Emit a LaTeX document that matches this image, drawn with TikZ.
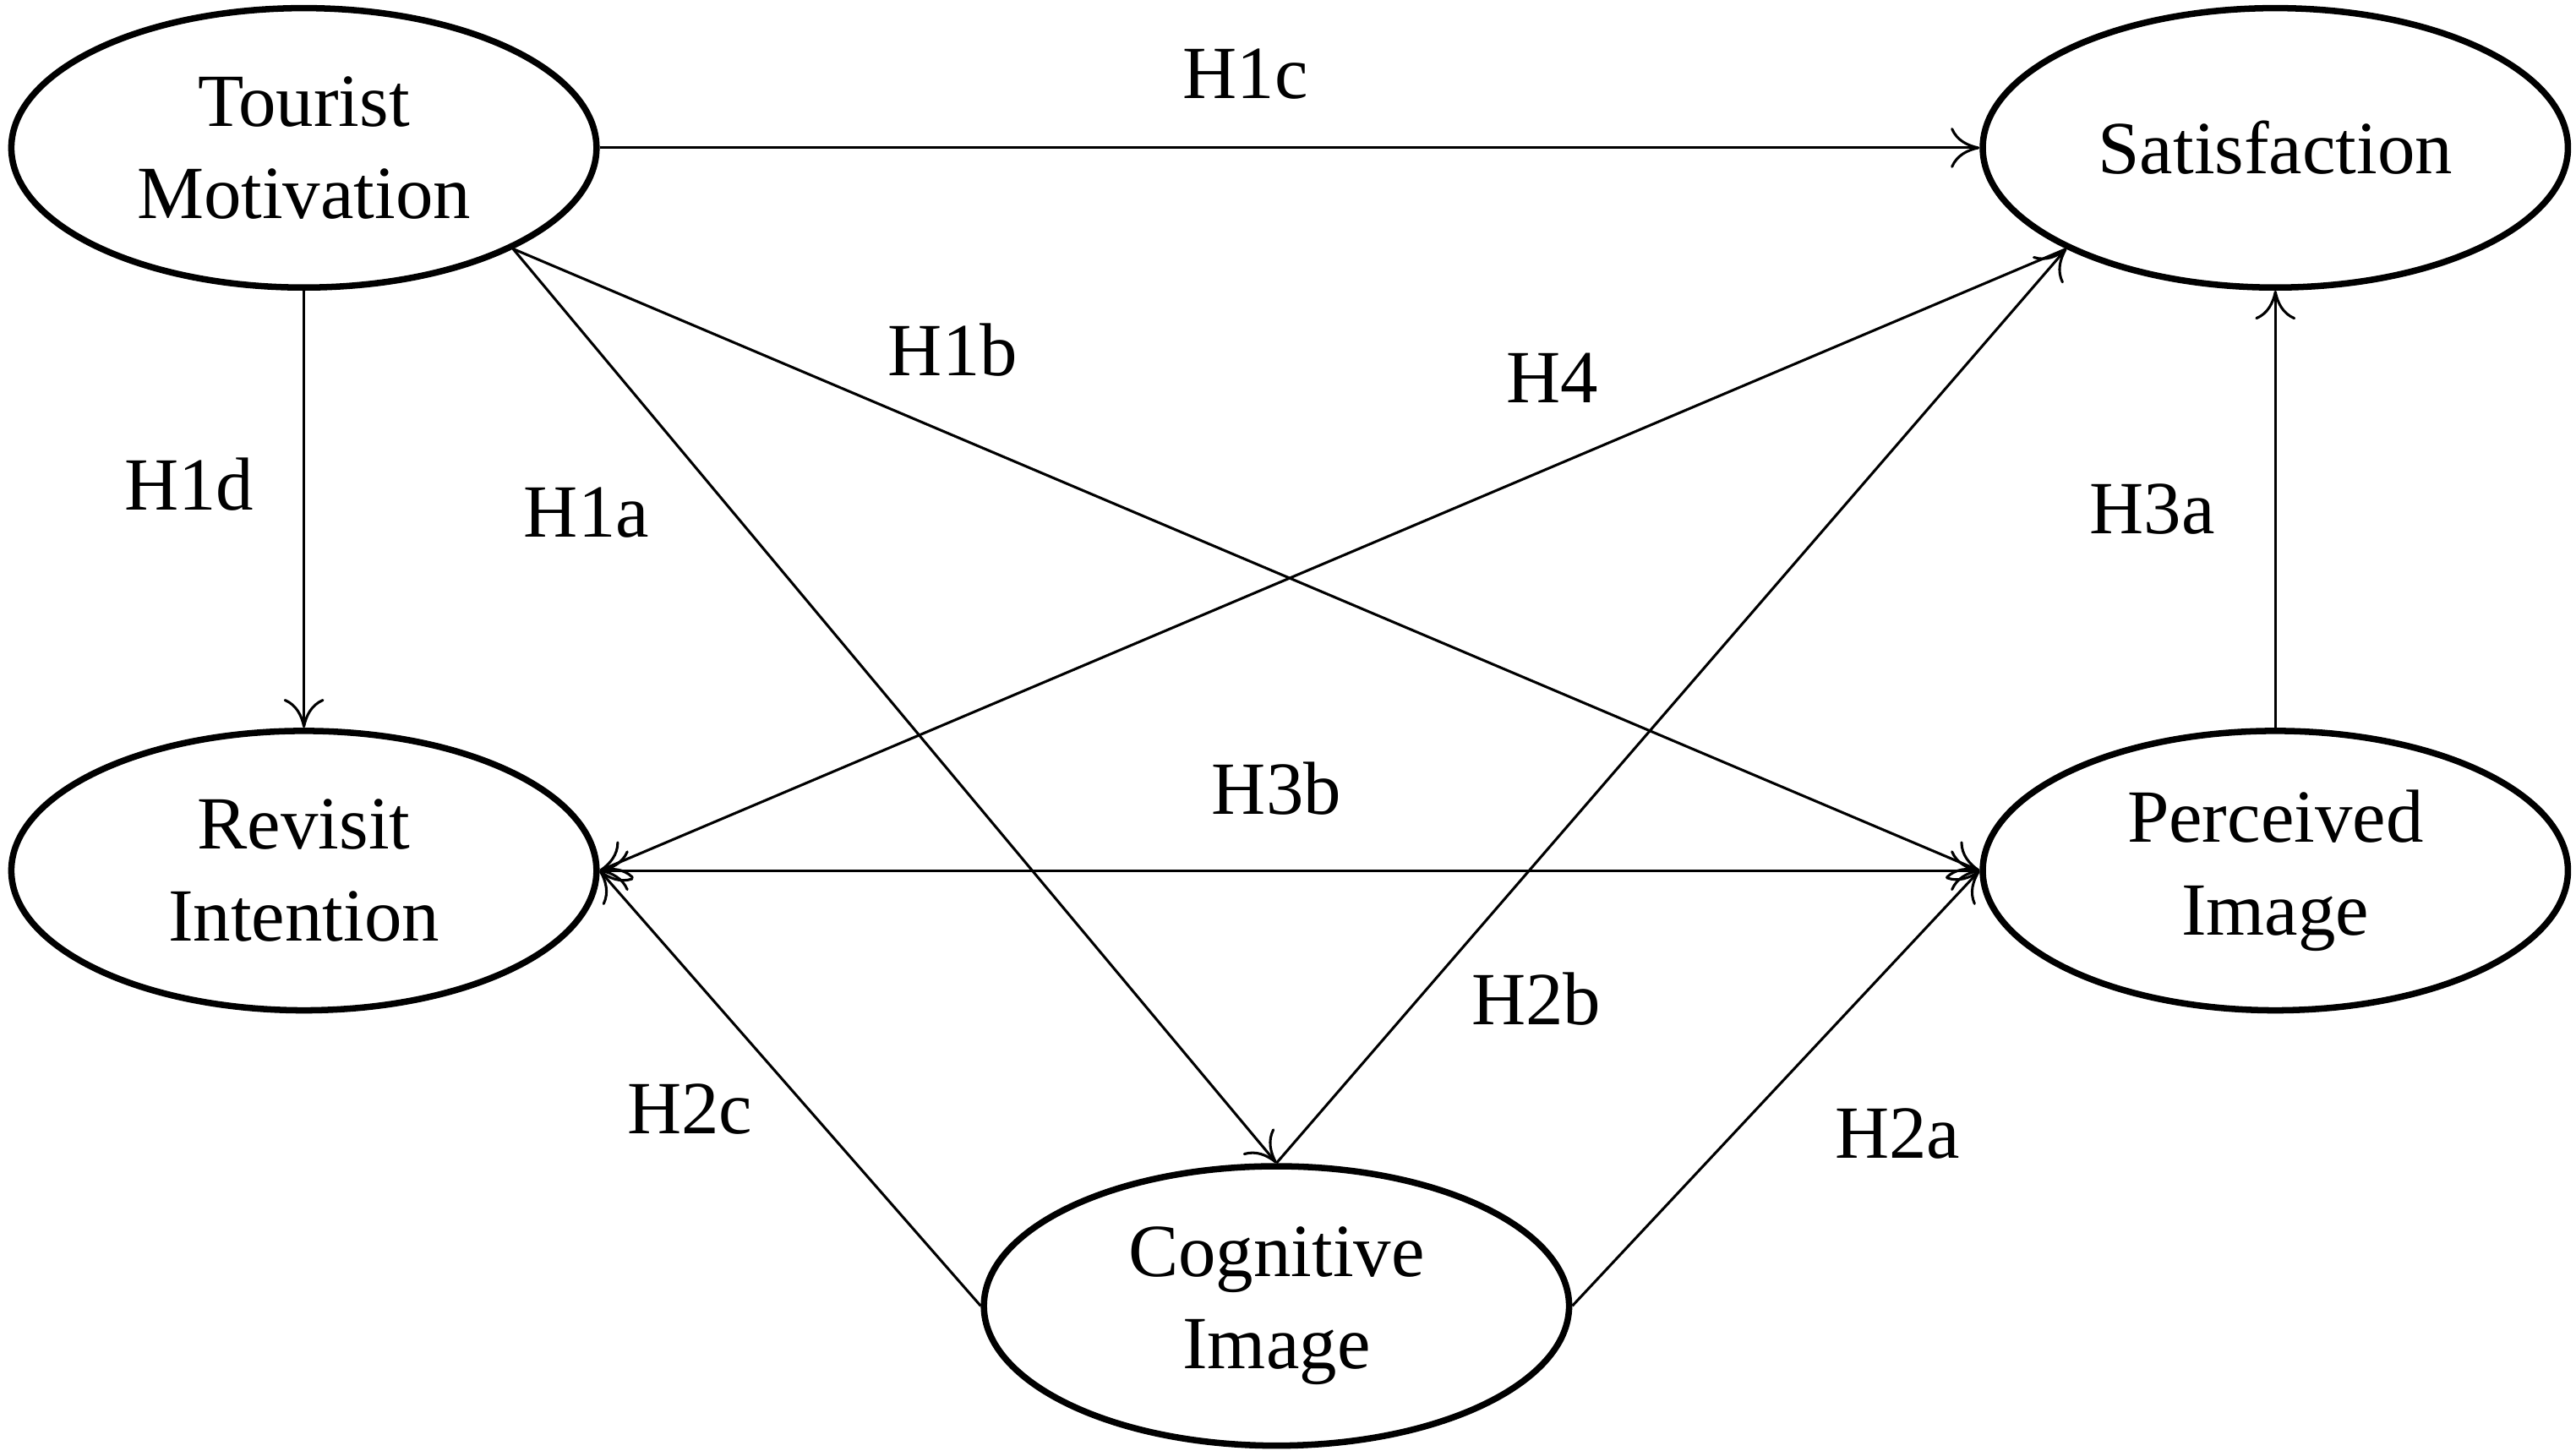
\documentclass[tikz,border=0pt]{standalone}
\usepackage{fontspec}
\setmainfont{Liberation Serif}
\usetikzlibrary{shapes.geometric,arrows.meta}
\begin{document}
\begin{tikzpicture}[x=0.01cm,y=-0.01cm,
  el/.style={ellipse,draw,line width=1.1pt,minimum width=3.56cm,minimum height=1.7cm,inner sep=0pt,align=center,font=\fontsize{13}{16}\selectfont},
  ar/.style={line width=0.45pt,-{To[length=5pt,width=7pt]}},
  lb/.style={font=\fontsize{13}{16}\selectfont}]
\useasboundingbox (0,0) rectangle (1568,883);
\node[el] (tm) at (185,90) {Tourist\\Motivation};
\node[el] (sa) at (1385,90) {Satisfaction};
\node[el] (ri) at (185,530) {Revisit\\Intention};
\node[el] (pi) at (1385,530) {Perceived\\Image};
\node[el] (ci) at (777,795) {Cognitive\\Image};
\draw[ar] (tm.east) -- (sa.west);
\draw[ar] (tm.south) -- (ri.north);
\draw[ar] (tm.south east) -- (ci.north);
\draw[ar] (tm.south east) -- (pi.west);
\draw[ar] (sa.south west) -- (ri.east);
\draw[ar] (ci.north) -- (sa.south west);
\draw[ar,{To[length=5pt,width=7pt]}-{To[length=5pt,width=7pt]}] (ri.east) -- (pi.west);
\draw[ar] (pi.north) -- (sa.south);
\draw[ar] (ci.west) -- (ri.east);
\draw[ar] (ci.east) -- (pi.west);
\node[lb] (l1) at (758,45) {H1c};
\node[lb] (l2) at (115,295) {H1d};
\node[lb] (l3) at (357,312) {H1a};
\node[lb] (l4) at (580,213) {H1b};
\node[lb] (l5) at (945,230) {H4};
\node[lb] (l6) at (1310,310) {H3a};
\node[lb] (l7) at (777,480) {H3b};
\node[lb] (l8) at (935,608) {H2b};
\node[lb] (l9) at (420,675) {H2c};
\node[lb] (l10) at (1155,690) {H2a};
\end{tikzpicture}
\end{document}
